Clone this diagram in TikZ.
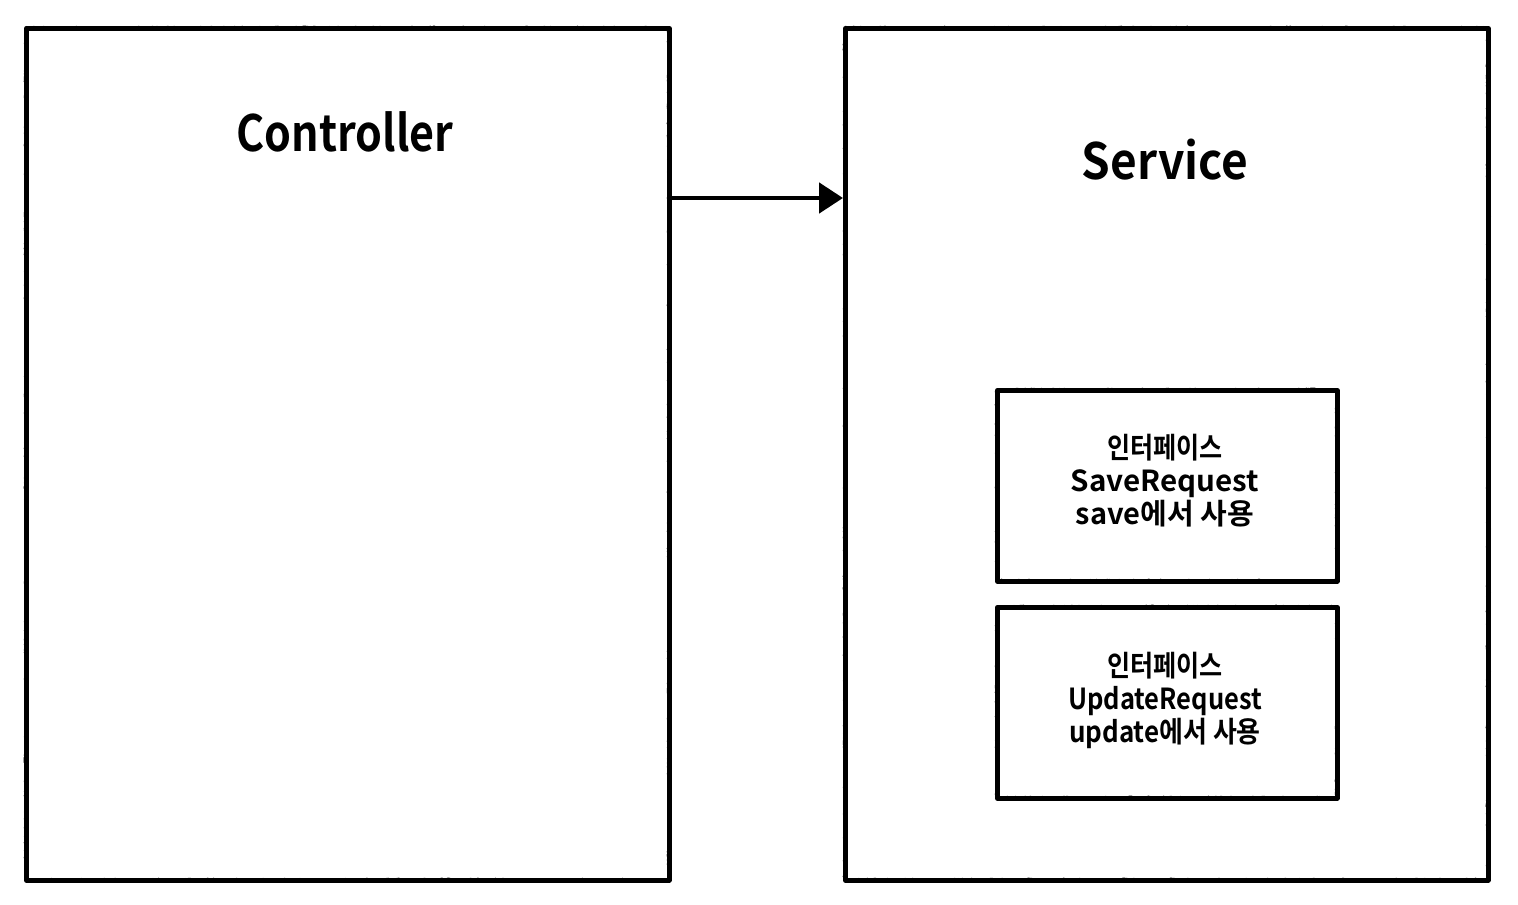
\documentclass[tikz,border=0pt]{standalone}
\usepackage{fontspec}
\setmainfont{Noto Sans CJK KR}[BoldFont=* Bold]
\usetikzlibrary{decorations.pathmorphing,arrows.meta}
\begin{document}
\begin{tikzpicture}[x=0.5pt,y=-0.5pt,
  rough/.style={draw=black,line width=2.3pt,line join=round,
    postaction={draw=black,line width=0.9pt,decorate,decoration={random steps,segment length=0.8pt,amplitude=0.9pt}}},
  bigbox/.style={rough,minimum width=321.5pt,minimum height=426pt,inner sep=0pt,anchor=north west},
  smallbox/.style={rough,minimum width=170pt,minimum height=95.5pt,inner sep=0pt,anchor=north west},
  title/.style={font=\fontsize{25}{30}\selectfont\bfseries},
  body/.style={font=\fontsize{14.5}{16.5}\selectfont\bfseries,align=center},
  link/.style={draw=black,line width=2.4pt,-{Triangle[length=12pt,width=15pt]}}]
\useasboundingbox (0,0) rectangle (1518,904);
\node[bigbox] (ctrl) at (24,26) {};
\node[bigbox] (svc) at (843,26) {};
\node[smallbox] (save) at (995,388) {};
\node[smallbox] (upd) at (995,605) {};
\node[title] (ctrlt) at (345,132) {\scalebox{0.86}[1]{Controller}};
\node[title] (svct) at (1165,160) {\scalebox{0.92}[1]{Service}};
\node[body] (savet) at (1165,481) {\scalebox{0.865}[1]{인터페이스}\\\scalebox{1.02}[1]{SaveRequest}\\\scalebox{1.0}[1]{save에서 사용}};
\node[body] (updt) at (1165,700) {\scalebox{0.865}[1]{인터페이스}\\\scalebox{0.88}[1]{UpdateRequest}\\\scalebox{0.895}[1]{update에서 사용}};
\coordinate (a1) at (667,198);
\coordinate (a2) at (843,198);
\draw[link] (a1) -- (a2);
\end{tikzpicture}
\end{document}
